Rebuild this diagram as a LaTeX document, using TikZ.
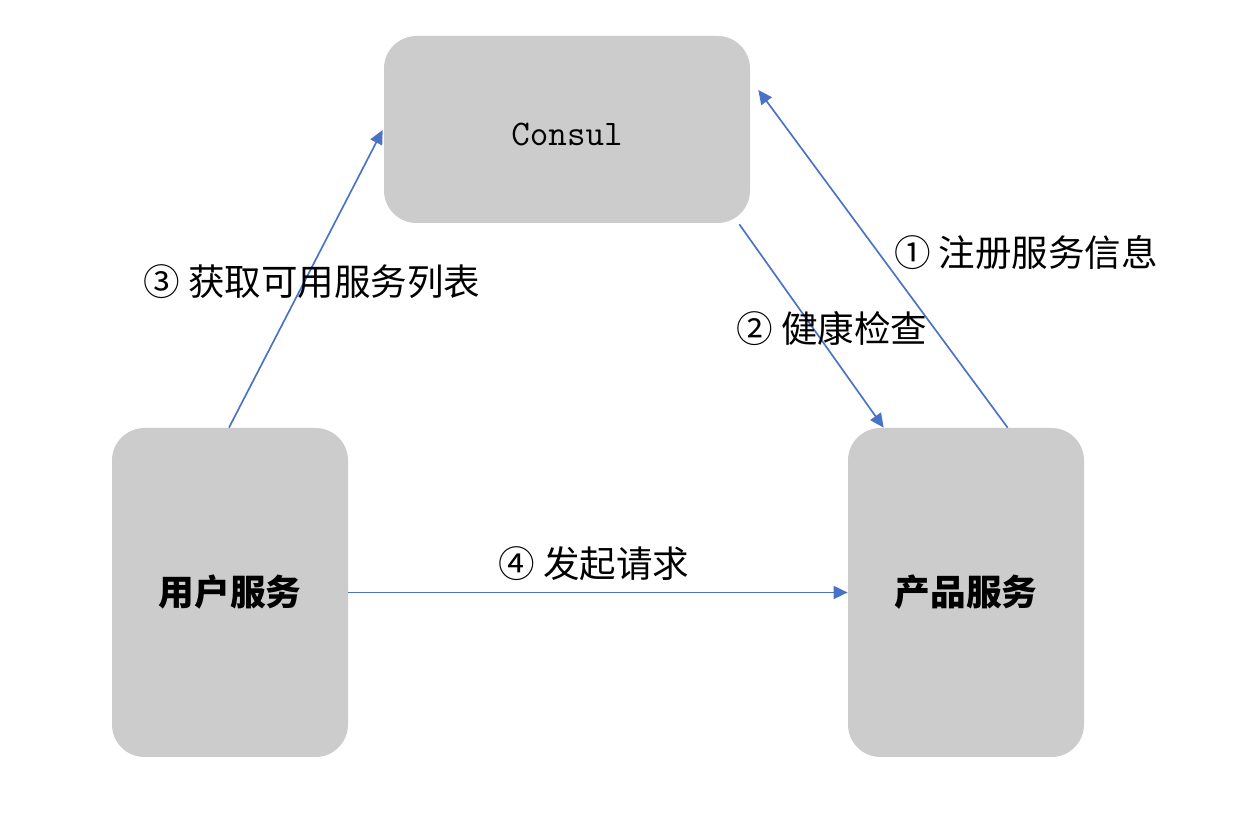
\documentclass[tikz,border=0pt]{standalone}
\usepackage{fontspec}
\usetikzlibrary{arrows.meta,calc}
\newfontfamily\cjk{Noto Sans CJK SC}
\definecolor{boxgray}{HTML}{CDCCCC}
\definecolor{arrowblue}{HTML}{4A72C6}
\begin{document}
\begin{tikzpicture}[x=0.02cm,y=-0.02cm,
  box/.style={fill=boxgray,draw=none,rounded corners=0.65cm,inner sep=0pt},
  conn/.style={draw=arrowblue,line width=0.95pt,-{Triangle[length=14*0.02cm,width=13*0.02cm]}},
  lbl/.style={font=\cjk\fontsize{20.8pt}{24pt}\selectfont,inner sep=0pt,anchor=center}]
\useasboundingbox (0,0) rectangle (1252,820);
\node[box,minimum width=366*0.02cm,minimum height=187*0.02cm,text height=18.5pt,text depth=0pt] (consul) at (567,129.5)
  {\ttfamily\fontsize{20.5pt}{24pt}\selectfont Consul};
\node[box,minimum width=236*0.02cm,minimum height=329*0.02cm] (user) at (230,592.5)
  {\cjk\bfseries\fontsize{20.3pt}{24pt}\selectfont 用户服务};
\node[box,minimum width=236*0.02cm,minimum height=329*0.02cm] (prod) at (966,592.5)
  {\cjk\bfseries\fontsize{20.3pt}{24pt}\selectfont 产品服务};
\coordinate (c1) at ($(consul.east)+(8,-39.5)$);
\coordinate (p1) at ($(prod.north west)+(160,0)$);
\coordinate (c2) at ($(consul.south east)+(-11,1)$);
\coordinate (p2) at ($(prod.north west)+(36,0)$);
\coordinate (u3) at ($(user.north)+(-1,0)$);
\coordinate (c3) at ($(consul.west)+(-1,0.5)$);
\draw[conn] (p1) -- (c1);
\draw[conn] (c2) -- (p2);
\draw[conn] (u3) -- (c3);
\draw[conn] (user.east) -- (prod.west);
\node[lbl] (l1) at (1026,253) {① 注册服务信息};
\node[lbl] (l2) at (832,329) {② 健康检查};
\node[lbl] (l3) at (312,282) {③ 获取可用服务列表};
\node[lbl] (l4) at (594,564) {④ 发起请求};
\end{tikzpicture}
\end{document}
